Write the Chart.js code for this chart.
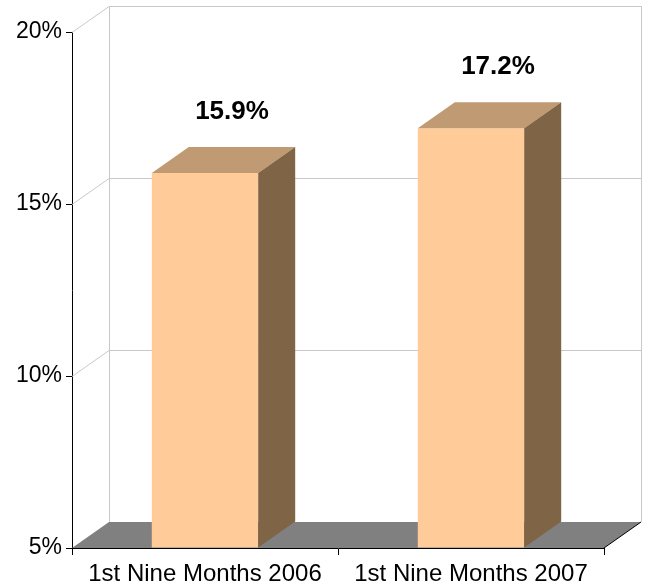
<!DOCTYPE html>
<html>
<head>
<meta charset="utf-8">
<script src="https://cdn.jsdelivr.net/npm/chart.js@4.4.1/dist/chart.umd.min.js"></script>
<style>
  html, body { margin: 0; padding: 0; background: #ffffff; }
  canvas { display: block; }
</style>
</head>
<body>
<canvas id="chart" width="648" height="587"></canvas>
<script>
// Period labels and their ratios (percent)
const categories = ['1st Nine Months 2006', '1st Nine Months 2007'];
const ratios = [15.9, 17.2];
const yTickValues = [5, 10, 15, 20];

// Oblique depth of the pseudo-3D box
const DEPTH_X = 37;
const DEPTH_Y = -26;

const COLORS = {
  front: '#FFCC99',
  top: '#C09A72',
  side: '#7F6446',
  floor: '#808080',
  wall: '#C8C8C8'
};

const FONT = '"Liberation Sans", Arial, sans-serif';

function poly(ctx, pts) {
  ctx.beginPath();
  ctx.moveTo(pts[0][0], pts[0][1]);
  for (let i = 1; i < pts.length; i++) ctx.lineTo(pts[i][0], pts[i][1]);
  ctx.closePath();
}

const box3d = {
  id: 'box3d',
  beforeDatasetsDraw(chart) {
    const { ctx, chartArea, scales } = chart;
    const { left, right, bottom } = chartArea;
    const y = scales.y;
    const topPx = y.getPixelForValue(y.max);
    ctx.save();
    // floor
    ctx.fillStyle = COLORS.floor;
    poly(ctx, [[left, bottom], [right, bottom], [right + DEPTH_X, bottom + DEPTH_Y], [left + DEPTH_X, bottom + DEPTH_Y]]);
    ctx.fill();
    // back wall edges
    ctx.strokeStyle = COLORS.wall;
    ctx.lineWidth = 1;
    ctx.beginPath();
    ctx.moveTo(Math.round(left + DEPTH_X) + 0.5, topPx + DEPTH_Y);
    ctx.lineTo(Math.round(left + DEPTH_X) + 0.5, bottom + DEPTH_Y);
    ctx.moveTo(Math.round(right + DEPTH_X) + 0.5, topPx + DEPTH_Y);
    ctx.lineTo(Math.round(right + DEPTH_X) + 0.5, bottom + DEPTH_Y);
    ctx.stroke();
    // grid lines across the side and back walls
    yTickValues.forEach(v => {
      if (v === y.min) return;
      const py = Math.round(y.getPixelForValue(v)) + 0.5;
      ctx.beginPath();
      ctx.moveTo(left, py);
      ctx.lineTo(left + DEPTH_X, py + DEPTH_Y);
      ctx.lineTo(right + DEPTH_X, py + DEPTH_Y);
      ctx.stroke();
    });
    // right edge of the floor
    ctx.strokeStyle = '#000000';
    ctx.beginPath();
    ctx.moveTo(right, bottom);
    ctx.lineTo(right + DEPTH_X, bottom + DEPTH_Y);
    ctx.stroke();
    ctx.restore();
  },
  afterDatasetsDraw(chart) {
    const { ctx, chartArea } = chart;
    const meta = chart.getDatasetMeta(0);
    ctx.save();
    meta.data.forEach((bar, i) => {
      const p = bar.getProps(['x', 'y', 'base', 'width'], true);
      const l = p.x - p.width / 2;
      const r = p.x + p.width / 2;
      const base = Math.min(p.base, chartArea.bottom);
      // top face
      ctx.fillStyle = COLORS.top;
      poly(ctx, [[l, p.y], [r, p.y], [r + DEPTH_X, p.y + DEPTH_Y], [l + DEPTH_X, p.y + DEPTH_Y]]);
      ctx.fill();
      // right side face
      ctx.fillStyle = COLORS.side;
      poly(ctx, [[r, p.y], [r + DEPTH_X, p.y + DEPTH_Y], [r + DEPTH_X, base + DEPTH_Y], [r, base]]);
      ctx.fill();
      // value label
      ctx.fillStyle = '#000000';
      ctx.font = 'bold 26px ' + FONT;
      ctx.textAlign = 'center';
      ctx.textBaseline = 'middle';
      ctx.fillText(ratios[i].toFixed(1) + '%', p.x + 27, p.y - 61);
    });
    ctx.restore();
  }
};

new Chart(document.getElementById('chart'), {
  type: 'bar',
  data: {
    labels: categories,
    datasets: [{
      data: ratios,
      base: 5,
      backgroundColor: COLORS.front,
      borderWidth: 0,
      barPercentage: 0.8,
      categoryPercentage: 0.5
    }]
  },
  options: {
    responsive: false,
    devicePixelRatio: 1,
    animation: false,
    layout: { padding: { top: 32, right: 44, left: 0, bottom: 0 } },
    plugins: { legend: { display: false }, tooltip: { enabled: false } },
    scales: {
      x: {
        grid: { drawOnChartArea: false, color: '#000000', tickLength: 7, offset: true },
        border: { color: '#000000', width: 1 },
        ticks: { color: '#000000', font: { family: FONT, size: 24 }, padding: 5, maxRotation: 0 },
        afterFit(scale) { scale.height = 39; }
      },
      y: {
        min: 5,
        max: 20,
        grid: { drawOnChartArea: false, color: '#000000', tickLength: 6 },
        border: { color: '#000000', width: 1 },
        ticks: {
          stepSize: 5,
          color: '#000000',
          padding: 4,
          font: { family: FONT, size: 23 },
          callback: v => v + '%'
        },
        afterFit(scale) { scale.width = 72; }
      }
    }
  },
  plugins: [box3d]
});
</script>
</body>
</html>
